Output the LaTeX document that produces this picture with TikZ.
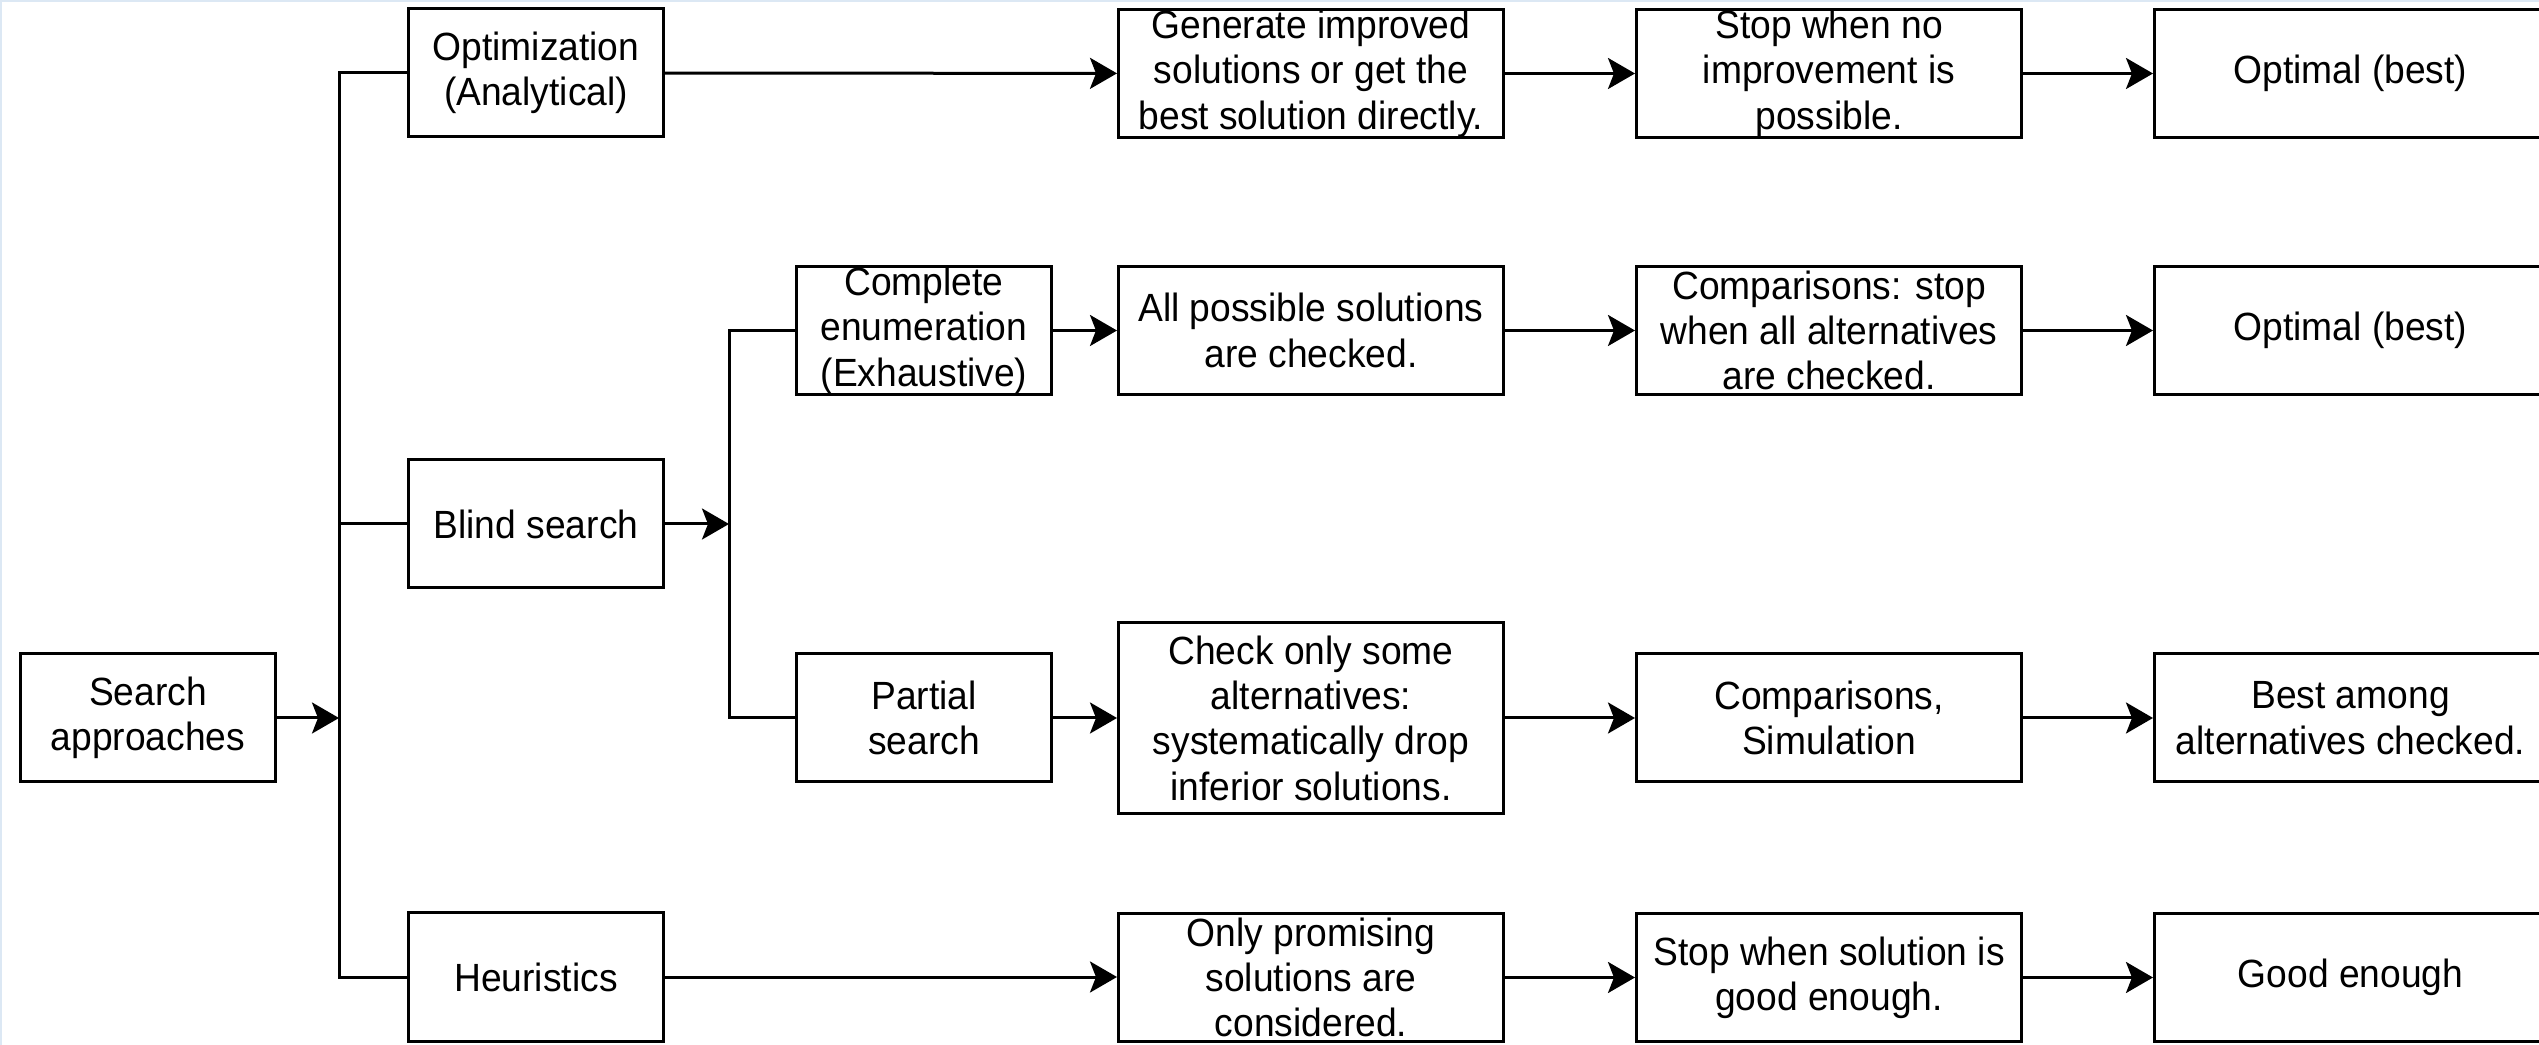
\documentclass[tikz,border=0pt]{standalone}
\usepackage{fontspec}
\setmainfont{Liberation Sans}[FakeStretch=0.945]
\usetikzlibrary{arrows.meta,positioning,calc}
\definecolor{frameblue}{HTML}{DCE8F4}

\begin{document}
\begin{tikzpicture}[
 node distance=13mm,
 box/.style={draw,line width=0.3mm,align=center,
   font=\fontsize{11.2}{12.9}\selectfont,
   minimum width=25.5mm,minimum height=12.8mm,inner xsep=2pt,inner ysep=0pt},
 wbox/.style={box,minimum width=38.5mm},
 rbox/.style={box,minimum width=39.2mm},
 link/.style={line width=0.3mm},
 arr/.style={link,-{Stealth[length=2.7mm,width=3.1mm,inset=0.6mm]}}
]
\useasboundingbox (-14.8mm,-32.7mm) rectangle (239.1mm,71.8mm);
\draw[frameblue,line width=0.2mm] (-14.7mm,-32.7mm) -- (-14.7mm,71.7mm) -- (239.1mm,71.7mm);

\node[box] (search) {Search\\approaches};
\node[box,right=of search,yshift=19.4mm] (blind) {Blind search};
\node[box,above=32mm of blind] (opt) {Optimization\\(Analytical)};
\node[box,below=32.2mm of blind] (heur) {Heuristics};
\node[box,right=of blind,yshift=19.35mm] (complete) {Complete\\enumeration\\(Exhaustive)};
\node[box,right=of blind,yshift=-19.4mm] (partial) {Partial\\search};
% solution steps
\node[wbox,right=6.4mm of complete] (allsol) {All possible solutions\\are checked.};
\node[wbox,above=12.6mm of allsol] (gen) {Generate improved\\solutions or get the\\best solution directly.};
\node[wbox,right=6.4mm of partial,minimum height=19.1mm] (some)
 {Check only some\\alternatives:\\systematically drop\\inferior solutions.};
\node[wbox,below=9.7mm of some] (promise) {Only promising\\solutions are\\considered.};
% stopping rules
\node[wbox,right=of gen] (stopno) {Stop when no\\improvement is\\possible.};
\node[wbox,right=of allsol] (compall) {Comparisons: stop\\when all alternatives\\are checked.};
\node[wbox,right=of some] (compsim) {Comparisons,\\Simulation};
\node[wbox,right=of promise] (stopgood) {Stop when solution is\\good enough.};
% results
\node[rbox,right=of stopno] (res1) {Optimal (best)};
\node[rbox,right=of compall] (res2) {Optimal (best)};
\node[rbox,right=of compsim] (res3) {Best among\\alternatives checked.};
\node[rbox,right=of stopgood] (res4) {Good enough};

\coordinate (t1) at ($(search.east)+(6.2mm,0)$);
\coordinate (t2) at ($(blind.east)+(6.4mm,0)$);
\draw[arr] (search) -- (t1);
\draw[link] (opt.west) -| (t1) |- (heur.west);
\draw[link] (blind.west) -- (blind.west -| t1);
\draw[arr] (blind) -- (t2);
\draw[link] (complete.west) -| (t2) |- (partial.west);

\draw[arr] (opt) -- (gen);
\draw[arr] (complete) -- (allsol);
\draw[arr] (partial) -- (some);
\draw[arr] (heur) -- (heur -| promise.west);
\draw[arr] (gen) -- (stopno);
\draw[arr] (allsol) -- (compall);
\draw[arr] (some) -- (compsim);
\draw[arr] (promise) -- (stopgood);
\draw[arr] (stopno) -- (res1);
\draw[arr] (compall) -- (res2);
\draw[arr] (compsim) -- (res3);
\draw[arr] (stopgood) -- (res4);
\end{tikzpicture}
\end{document}
